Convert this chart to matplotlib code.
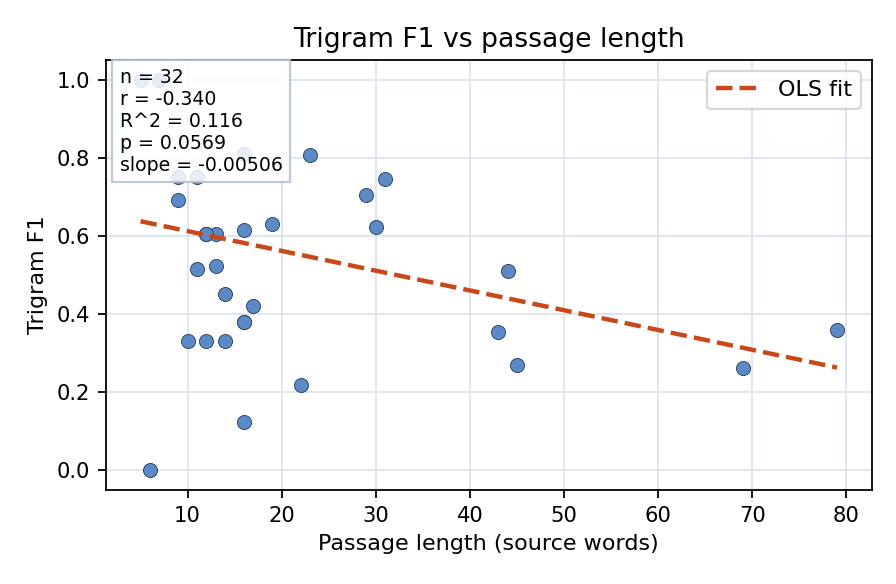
import matplotlib
matplotlib.use("Agg")
import matplotlib.pyplot as plt
import numpy as np

# passage length (source words) and trigram F1 per passage
passage_len = [5, 7, 9, 11, 16, 6, 9, 10, 11, 12, 13, 12, 13, 14, 14, 16, 16,
               16, 17, 19, 22, 23, 29, 30, 31, 43, 44, 45, 69, 79, 12, 16]
trigram_f1 = [1.0, 1.0, 0.75, 0.75, 0.811, 0.0, 0.691, 0.332, 0.515, 0.605,
              0.605, 0.332, 0.523, 0.452, 0.332, 0.615, 0.38, 0.125, 0.421,
              0.63, 0.219, 0.806, 0.704, 0.622, 0.747, 0.355, 0.51, 0.27,
              0.263, 0.36, 0.605, 0.38]

# reported OLS fit
fit_slope = -0.00506
fit_intercept = 0.663

stats_lines = ["n = 32", "r = -0.340", "R^2 = 0.116", "p = 0.0569",
               "slope = -0.00506"]

x = np.array(passage_len, dtype=float)
y = np.array(trigram_f1, dtype=float)
xs = np.array([x.min(), x.max()])

fig = plt.figure(figsize=(5.6, 3.65), dpi=160)
ax = fig.add_axes([0.118, 0.161, 0.855, 0.736])

ax.scatter(x, y, s=40, color="#5b8ac6", edgecolor="#2b3f5c", linewidth=0.4,
           zorder=3)
ax.plot(xs, fit_slope * xs + fit_intercept, "--", color="#c8481a",
        linewidth=2, label="OLS fit", zorder=4)

ax.set_ylim(-0.05, 1.05)
ax.set_xticks([10, 20, 30, 40, 50, 60, 70, 80])
ax.set_yticks([0.0, 0.2, 0.4, 0.6, 0.8, 1.0])
ax.grid(True, color="#dde3ec", linewidth=0.8, zorder=0)
ax.set_axisbelow(True)
ax.tick_params(labelsize=9.5)

ax.set_title("Trigram F1 vs passage length", fontsize=12)
ax.set_xlabel("Passage length (source words)", fontsize=10)
ax.set_ylabel("Trigram F1", fontsize=10)

ax.text(0.018, 0.982, "\n".join(stats_lines), transform=ax.transAxes,
        fontsize=8.5, va="top", ha="left", zorder=5,
        bbox=dict(boxstyle="square,pad=0.4", facecolor="white", alpha=0.85,
                  edgecolor="#b4c0d0"))

ax.legend(loc="upper right", fontsize=10)

fig.savefig("out.png", dpi=160)
